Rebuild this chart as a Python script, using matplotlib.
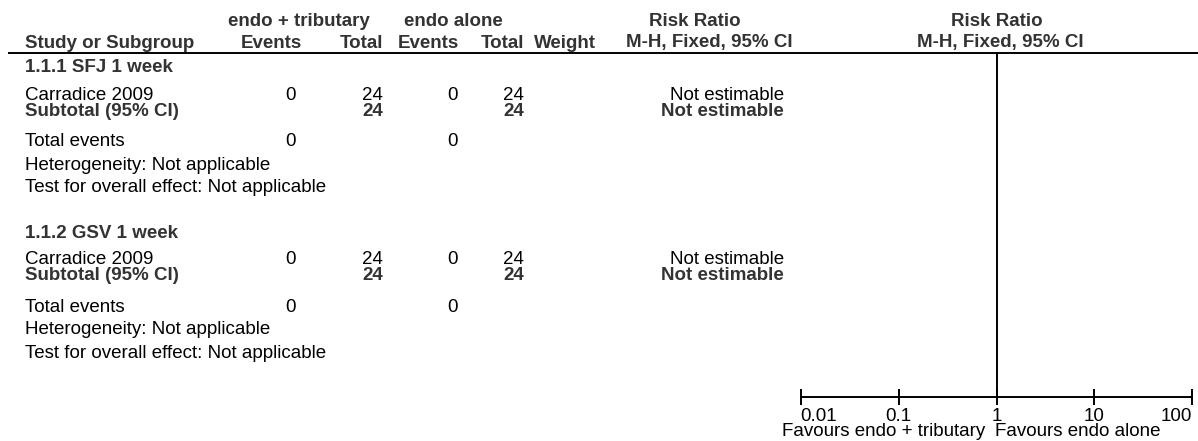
import matplotlib
matplotlib.use("Agg")
import matplotlib.pyplot as plt
from matplotlib.ticker import FixedLocator, FixedFormatter, NullLocator

# ---------------- data ----------------
group_labels = ["1.1.1 SFJ 1 week", "1.1.2 GSV 1 week"]
study_names = ["Carradice 2009", "Carradice 2009"]
exp_events = [0, 0]
exp_total = [24, 24]
ctl_events = [0, 0]
ctl_total = [24, 24]
subtotal_exp = [24, 24]
subtotal_ctl = [24, 24]
total_events_exp = [0, 0]
total_events_ctl = [0, 0]
effect_text = ["Not estimable", "Not estimable"]
heterogeneity = ["Heterogeneity: Not applicable", "Heterogeneity: Not applicable"]
overall_test = ["Test for overall effect: Not applicable", "Test for overall effect: Not applicable"]
axis_ticks = [0.01, 0.1, 1, 10, 100]
axis_tick_labels = ["0.01", "0.1", "1", "10", "100"]
favours_left = "Favours endo + tributary"
favours_right = "Favours endo alone"
exp_label = "endo + tributary"
ctl_label = "endo alone"

# ---------------- layout ----------------
W, H = 1198, 441
fig = plt.figure(figsize=(W / 100, H / 100), dpi=100)
plt.rcParams['font.family'] = ['Liberation Sans', 'DejaVu Sans']
FS = 13.5
BOLDC = '#333333'

ax = fig.add_axes([0, 0, 1, 1])
ax.set_xlim(0, W)
ax.set_ylim(H, 0)
ax.axis('off')

def t(x, y, s, ha='left', bold=False):
    ax.text(x, y, s, ha=ha, va='center', fontsize=FS,
            fontweight='bold' if bold else 'normal',
            color=BOLDC if bold else 'black')

# column anchors (px)
x_name = 25
x_ev1 = 291      # center of event values
x_tot1 = 383     # right
x_ev2 = 453      # center
x_tot2 = 524     # right
x_wt = 534       # left
x_rr = 784       # right edge of effect text

y_grp_hdr = 22
y_hdr = 43
y_line = 53

t(299, y_grp_hdr, exp_label, ha='center', bold=True)
t(453, y_grp_hdr, ctl_label, ha='center', bold=True)
t(695, y_grp_hdr, "Risk Ratio", ha='center', bold=True)
t(997, y_grp_hdr, "Risk Ratio", ha='center', bold=True)

t(x_name, y_hdr, "Study or Subgroup", bold=True)
t(271, y_hdr, "Events", ha='center', bold=True)
t(x_tot1, y_hdr, "Total", ha='right', bold=True)
t(428, y_hdr, "Events", ha='center', bold=True)
t(x_tot2, y_hdr, "Total", ha='right', bold=True)
t(x_wt, y_hdr, "Weight", bold=True)
t(709, y_hdr, "M-H, Fixed, 95% CI", ha='center', bold=True)
t(1000, y_hdr, "M-H, Fixed, 95% CI", ha='center', bold=True)

ax.plot([8, W], [y_line, y_line], color='black', lw=1.4, solid_capstyle='butt')

group_y = [68, 233]
for i, gy in enumerate(group_y):
    t(x_name, gy, group_labels[i], bold=True)
    ys = gy + 27
    t(x_name, ys, study_names[i])
    t(x_ev1, ys, str(exp_events[i]), ha='center')
    t(x_tot1, ys, str(exp_total[i]), ha='right')
    t(x_ev2, ys, str(ctl_events[i]), ha='center')
    t(x_tot2, ys, str(ctl_total[i]), ha='right')
    t(x_rr, ys, effect_text[i], ha='right')
    yst = ys + 16
    t(x_name, yst, "Subtotal (95% CI)", bold=True)
    t(x_tot1, yst, str(subtotal_exp[i]), ha='right', bold=True)
    t(x_tot2, yst, str(subtotal_ctl[i]), ha='right', bold=True)
    t(x_rr, yst, effect_text[i], ha='right', bold=True)
    yte = yst + 31
    t(x_name, yte, "Total events")
    t(x_ev1, yte, str(total_events_exp[i]), ha='center')
    t(x_ev2, yte, str(total_events_ctl[i]), ha='center')
    t(x_name, yte + 23, heterogeneity[i])
    t(x_name, yte + 46, overall_test[i])

# ---------------- forest axis ----------------
y_axis = 397
fx0, fx1 = 800.7, 1192.3
fa = fig.add_axes([fx0 / W, (H - y_axis) / H, (fx1 - fx0) / W, (y_axis - y_line) / H])
fa.set_xscale('log')
fa.set_xlim(axis_ticks[0], axis_ticks[-1])
fa.set_ylim(0, 1)
fa.patch.set_alpha(0)
for s in ['top', 'left', 'right']:
    fa.spines[s].set_visible(False)
fa.spines['bottom'].set_linewidth(1.4)
fa.yaxis.set_major_locator(NullLocator())
fa.xaxis.set_major_locator(FixedLocator(axis_ticks))
fa.xaxis.set_major_formatter(FixedFormatter(axis_tick_labels))
fa.xaxis.set_minor_locator(NullLocator())
fa.tick_params(axis='x', direction='inout', length=12, width=1.4, labelsize=FS, pad=2)
ticks = fa.xaxis.get_major_ticks()
ticks[0].label1.set_horizontalalignment('left')
ticks[-1].label1.set_horizontalalignment('right')
fa.axvline(1, color='black', lw=1.4)

t(985, 432, favours_left, ha='right')
t(995, 432, favours_right, ha='left')

fig.savefig("out.png", dpi=100)
